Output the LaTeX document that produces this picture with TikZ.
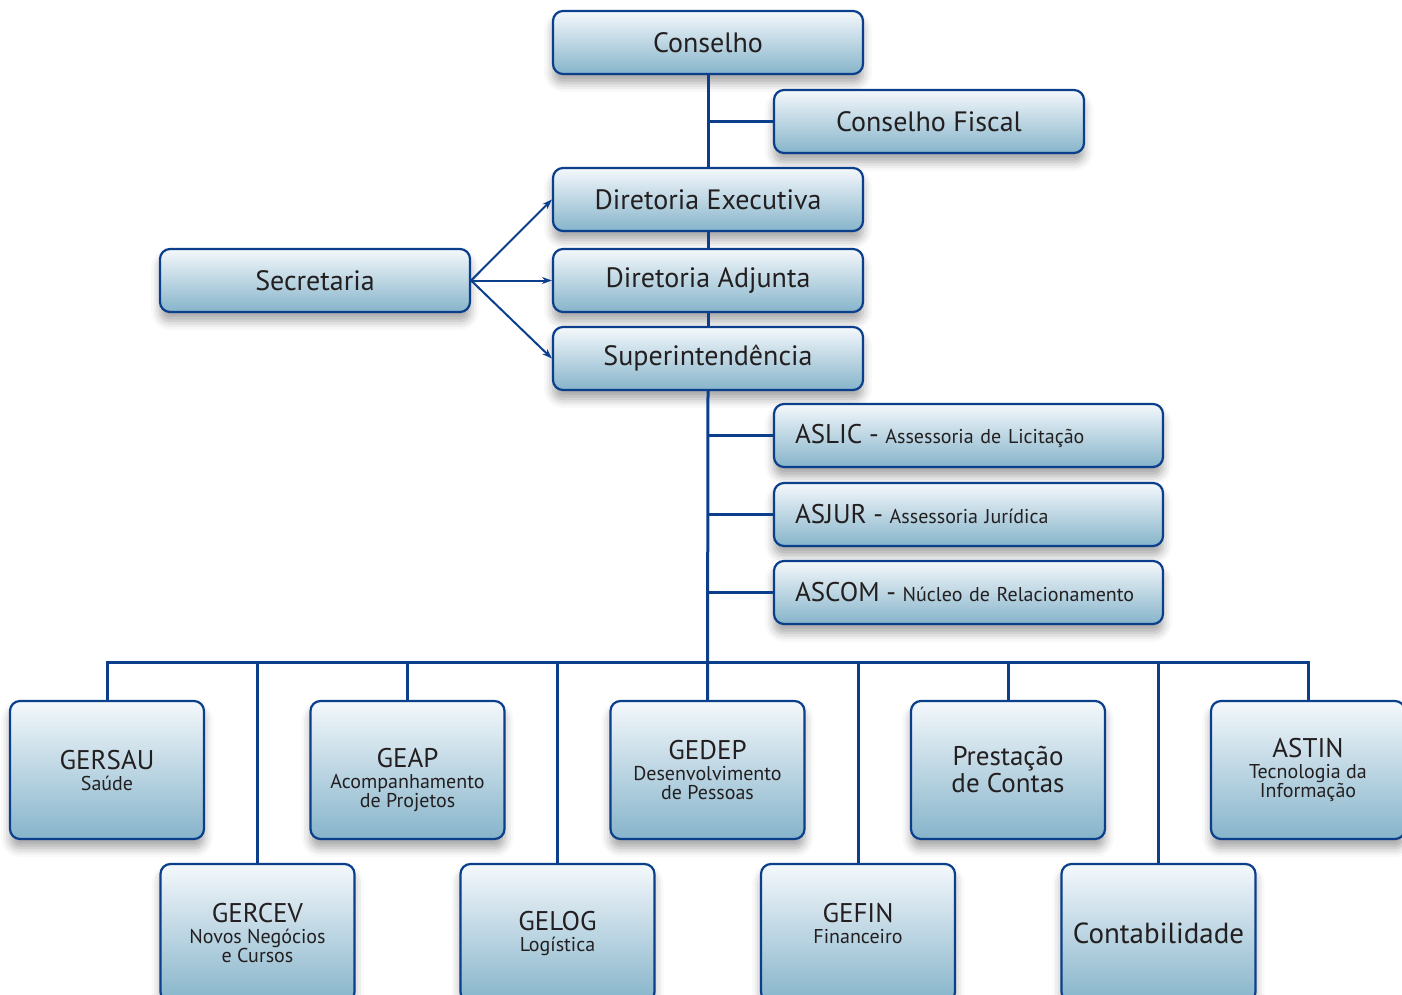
\documentclass[tikz,border=0pt]{standalone}
\usepackage{fontspec}
\setmainfont{PT Sans}
\usetikzlibrary{shadows,shadows.blur,arrows.meta}
\definecolor{ln}{HTML}{0B3F8C}
\definecolor{txt}{HTML}{231F20}
\definecolor{boxtop}{HTML}{F4F8FB}
\definecolor{boxmid}{HTML}{BDD6E3}
\definecolor{boxbot}{HTML}{86B4CA}
\newcommand{\ttl}[1]{{\fontsize{27}{18}\selectfont #1}}
\begin{document}
\lineskiplimit=-30pt
\lineskip=0pt
\begin{tikzpicture}[x=1pt,y=-1pt,
  box/.style={draw=ln, line width=2.2pt, rounded corners=10pt,
    top color=boxtop, bottom color=boxbot, middle color=boxmid,
    blur shadow={shadow xshift=0pt, shadow yshift=-9pt, shadow blur radius=9pt, shadow opacity=35},
    inner sep=0pt, text=txt, align=center},
  wide/.style={box, minimum width=310pt, minimum height=63pt, font=\fontsize{28}{28}\selectfont},
  asst/.style={box, text width=347pt, inner xsep=21pt, minimum height=63pt, align=left, font=\fontsize{20}{20}\selectfont},
  unit/.style={box, minimum width=194pt, minimum height=138pt, font=\fontsize{20}{19}\selectfont},
  conn/.style={draw=ln, line width=3pt},
  arr/.style={draw=ln, line width=2pt, -{Stealth[length=10pt,width=7pt]}}]
\useasboundingbox (0,0) rectangle (1402,995);
\clip (0,0) rectangle (1402,995);

% upper chain
\node[wide] (conselho) at (708,42.5) {Conselho};
\node[wide] (fiscal) at (929,121.5) {Conselho Fiscal};
\node[wide] (direx) at (708,199.5) {Diretoria Executiva};
\node[wide] (secr) at (315,280.5) {Secretaria};
\node[wide] (diradj) at (708,280.5) {Diretoria Adjunta};
\node[wide] (super) at (708,358.5) {Superintendência};

% assessorias
\node[asst] (aslic) at (968.5,435.5) {{\fontsize{27}{27}\selectfont ASLIC -} Assessoria de Licitação};
\node[asst] (asjur) at (968.5,514.5) {{\fontsize{27}{27}\selectfont ASJUR -} Assessoria Jurídica};
\node[asst] (ascom) at (968.5,592.5) {{\fontsize{27}{27}\selectfont ASCOM -} Núcleo de Relacionamento};

% top row units
\node[unit] (gersau) at (107,770) {\ttl{GERSAU}\\[2pt]Saúde};
\node[unit] (geap) at (407.5,770) {\ttl{\rule{0pt}{40pt}GEAP}\\[2pt]Acompanhamento\\de Projetos};
\node[unit] (gedep) at (707.5,770) {\ttl{GEDEP}\\[2pt]Desenvolvimento\\de Pessoas};
\node[unit, font=\fontsize{27}{27}\selectfont] (prest) at (1008,770) {Prestação\\de Contas};
\node[unit] (astin) at (1308,770) {\ttl{ASTIN}\\[2pt]Tecnologia da\\Informação};

% bottom row units
\node[unit] (gercev) at (257.5,933) {\ttl{GERCEV}\\[2pt]Novos Negócios\\e Cursos};
\node[unit] (gelog) at (557.5,933) {\ttl{GELOG}\\[2pt]Logística};
\node[unit] (gefin) at (858,933) {\ttl{GEFIN}\\[2pt]Financeiro\rule[-20pt]{0pt}{1pt}};
\node[unit, font=\fontsize{29}{29}\selectfont] (contab) at (1158.5,933) {Contabilidade};

% connectors
\coordinate (bus) at (708,662);
\draw[conn] (conselho.south) -- (direx.north);
\draw[conn] (direx.south) -- (diradj.north);
\draw[conn] (diradj.south) -- (super.north);
\draw[conn] (super.south) -- (gedep.north);
\draw[conn] (fiscal.west) -- (fiscal.west -| conselho.south);
\draw[conn] (aslic.west) -- (aslic.west -| super.south);
\draw[conn] (asjur.west) -- (asjur.west -| super.south);
\draw[conn] (ascom.west) -- (ascom.west -| super.south);

\draw[conn] (gersau.north) -- (gersau.north |- bus) -- (astin.north |- bus) -- (astin.north);
\draw[conn] (geap.north) -- (geap.north |- bus);
\draw[conn] (prest.north) -- (prest.north |- bus);
\draw[conn] (gercev.north) -- (gercev.north |- bus);
\draw[conn] (gelog.north) -- (gelog.north |- bus);
\draw[conn] (gefin.north) -- (gefin.north |- bus);
\draw[conn] (contab.north) -- (contab.north |- bus);

\draw[arr] (secr.east) -- (direx.west);
\draw[arr] (secr.east) -- (diradj.west);
\draw[arr] (secr.east) -- (super.west);
\end{tikzpicture}
\end{document}
